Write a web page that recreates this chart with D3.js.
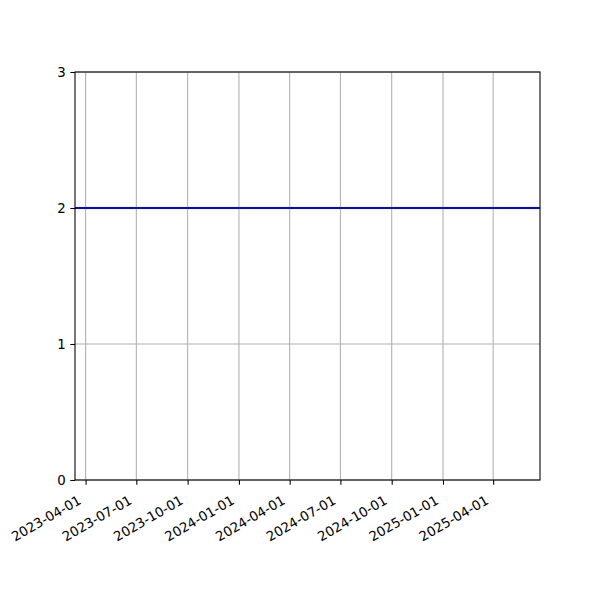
<!DOCTYPE html>
<html>
<head>
<meta charset="utf-8">
<script src="https://cdn.jsdelivr.net/npm/d3@7"></script>
<style>
body { margin: 0; background: #fff; }
text { font-family: "DejaVu Sans", sans-serif; }
</style>
</head>
<body>
<script>
// data: a flat series at 2 over the whole range shown
var dates = ['2023-03-13', '2025-06-24'];
var values = [2, 2];
var xTicks = ['2023-04-01', '2023-07-01', '2023-10-01', '2024-01-01', '2024-04-01',
              '2024-07-01', '2024-10-01', '2025-01-01', '2025-04-01'];
var yTicks = [0, 1, 2, 3];

var W = 600, H = 600;
var mLeft = 75, mRight = 540, mTop = 72, mBottom = 480;
var parse = d3.timeParse('%Y-%m-%d');
var fmt = d3.timeFormat('%Y-%m-%d');

var svg = d3.select('body').append('svg')
    .attr('width', W)
    .attr('height', H);

var x = d3.scaleTime()
    .domain([parse(dates[0]), parse(dates[dates.length - 1])])
    .range([mLeft, mRight]);
var y = d3.scaleLinear()
    .domain([0, 3])
    .range([mBottom, mTop]);

var tickLen = 4.7, pad = 4.7, fs = 13.33;

// grid
svg.append('g').selectAll('line')
    .data(xTicks.map(parse))
    .enter().append('line')
    .attr('x1', d => x(d)).attr('x2', d => x(d))
    .attr('y1', mTop).attr('y2', mBottom)
    .attr('stroke', '#b0b0b0').attr('stroke-width', 1.07);
svg.append('g').selectAll('line')
    .data(yTicks)
    .enter().append('line')
    .attr('x1', mLeft).attr('x2', mRight)
    .attr('y1', d => y(d)).attr('y2', d => y(d))
    .attr('stroke', '#b0b0b0').attr('stroke-width', 1.07);

// line
var pts = dates.map((d, i) => [parse(d), values[i]]);
svg.append('path')
    .datum(pts)
    .attr('fill', 'none')
    .attr('stroke', '#0000ff')
    .attr('stroke-width', 2)
    .attr('d', d3.line().x(d => x(d[0])).y(d => y(d[1])));

// frame
svg.append('rect')
    .attr('x', mLeft).attr('y', mTop)
    .attr('width', mRight - mLeft).attr('height', mBottom - mTop)
    .attr('fill', 'none').attr('stroke', '#000').attr('stroke-width', 1.07);

// x axis, labels turned 30 degrees like autofmt_xdate
var xa = svg.append('g').attr('transform', 'translate(0,' + mBottom + ')')
    .call(d3.axisBottom(x).tickValues(xTicks.map(parse)).tickFormat(fmt)
        .tickSize(tickLen).tickPadding(0));
xa.select('.domain').remove();
xa.selectAll('line').attr('stroke', '#000').attr('stroke-width', 1.07);
xa.selectAll('text')
    .attr('font-size', fs)
    .attr('font-family', '"DejaVu Sans", sans-serif')
    .attr('fill', '#000')
    .attr('text-anchor', 'end')
    .attr('y', 0).attr('dy', 0)
    .attr('transform', 'translate(-4,23) rotate(-30)');

// y axis
var ya = svg.append('g').attr('transform', 'translate(' + mLeft + ',0)')
    .call(d3.axisLeft(y).tickValues(yTicks).tickFormat(d3.format('d'))
        .tickSize(tickLen).tickPadding(pad));
ya.select('.domain').remove();
ya.selectAll('line').attr('stroke', '#000').attr('stroke-width', 1.07);
ya.selectAll('text')
    .attr('font-size', fs)
    .attr('font-family', '"DejaVu Sans", sans-serif')
    .attr('fill', '#000');
</script>
</body>
</html>
